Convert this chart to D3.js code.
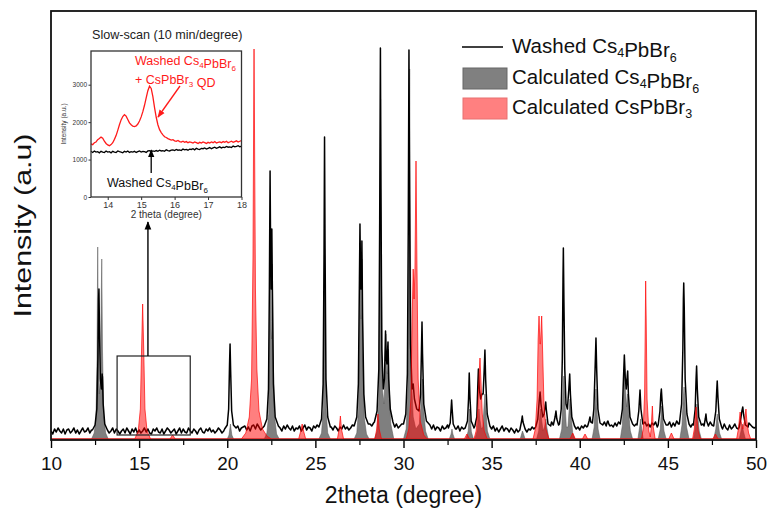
<!DOCTYPE html>
<html><head><meta charset="utf-8">
<script src="https://cdn.jsdelivr.net/npm/d3@7"></script>
<style>body{margin:0;background:#fff}svg{display:block}text{font-family:"Liberation Sans",Arial,sans-serif}</style>
</head><body><svg id="c" width="768" height="514"></svg>
<script>
// ---------- DATA ----------
const xTickValues = [10,15,20,25,30,35,40,45,50];
const xMinorTickValues = [12.5,17.5,22.5,27.5,32.5,37.5,42.5,47.5];
const legendLabels = [
  [["Washed Cs"],["4",1],["PbBr"],["6",1]],
  [["Calculated Cs"],["4",1],["PbBr"],["6",1]],
  [["Calculated CsPbBr"],["3",1]]
];
// measured scan background, 2theta 10.0 .. 50.0 step 0.1
const scanBackground = [
 8,5,10,7,11,8,6,10,5,9, 10,6,8,11,6,9,5,8,11,7, 8,11,6,9,8,11,9,10,8,9, 11,7,9,6,8,11,6,10,8,5,
 8,10,6,11,8,5,10,7,11,6, 9,6,8,11,7,10,6,5,10,8, 11,7,6,10,5,8,11,9,6,8, 10,5,8,11,6,10,7,6,11,8,
 6,10,8,5,9,11,7,6,10,8, 11,7,9,6,8,11,9,6,8,11, 9,11,8,12,9,10,13,8,11,12, 13,9,12,8,13,14,10,15,12,9,
 11,14,12,9,15,12,10,14,9,12, 11,8,13,10,14,11,9,13,8,11, 10,13,8,11,14,9,12,11,8,13, 11,14,9,12,10,15,12,13,10,12,
 9,13,11,8,12,10,14,10,12,9, 11,14,12,9,12,15,13,16,14,12, 12,15,13,16,14,17,15,18,16,19, 18,15,17,13,16,12,15,11,13,15,
 13,11,15,12,16,17,18,16,15,18, 17,19,15,14,12,13,10,14,9,12, 11,8,13,10,11,14,12,9,11,8, 10,13,8,12,10,13,14,10,10,13,
 11,14,12,15,13,16,14,13,12,10, 10,13,8,11,7,10,13,8,11,10, 7,11,9,6,10,7,9,12,10,8, 7,10,9,12,10,13,15,13,16,14,
 13,16,11,15,17,14,18,13,16,15, 14,17,15,12,16,14,11,13,10,12, 9,13,11,14,12,15,13,16,11,14, 13,16,11,15,17,12,15,18,14,12,
 16,13,17,12,15,18,16,13,12,16, 17,13,15,12,18,13,15,17,13,15, 12,16,14,17,12,15,18,16,13,15, 14,17,12,16,13,18,15,17,14,12,
 16,13,17,12,15,14,11,15,12,16, 15,11,16,12,17,14,12,16,14,11, 13,10,15,11,9,14,10,12,15,11, 10,14,9,13,15,12,16,14,12,11,
 12
];
// measured (washed Cs4PbBr6) peaks: [2theta, intensity]
const scanPeaks = [
 [[12.35,9],[12.5,14],[12.6,30],[12.66,80],[12.7,140],[12.72,150],[12.75,110],[12.8,60],[12.86,50],[12.9,65],[12.92,62],[12.96,35],[13.05,15],[13.2,9]],
 [[19.85,10],[20.0,14],[20.08,30],[20.13,75],[20.16,95],[20.19,70],[20.25,28],[20.35,14],[20.5,11]],
 [[22.1,13],[22.25,20],[22.34,50],[22.39,150],[22.43,268],[22.46,190],[22.49,150],[22.53,210],[22.56,150],[22.62,55],[22.72,22],[22.9,13]],
 [[25.2,12],[25.35,20],[25.44,55],[25.49,180],[25.52,302],[25.55,190],[25.6,60],[25.7,22],[25.85,12]],
 [[27.2,13],[27.35,22],[27.44,55],[27.5,160],[27.53,215],[27.57,150],[27.61,150],[27.64,198],[27.68,120],[27.75,45],[27.85,22],[28.0,15]],
 [[28.35,17],[28.5,28],[28.6,70],[28.65,220],[28.69,391],[28.72,250],[28.77,90],[28.85,50],[28.92,60],[28.98,108],[29.02,80],[29.06,75],[29.12,97],[29.16,60],[29.25,30],[29.4,17]],
 [[30.0,15],[30.13,25],[30.22,65],[30.27,210],[30.31,389],[30.34,250],[30.4,95],[30.48,50],[30.55,55],[30.62,40],[30.75,30],[30.88,28],[30.97,45],[31.02,90],[31.05,117],[31.08,85],[31.15,35],[31.3,18],[31.5,14]],
 [[32.55,11],[32.65,16],[32.7,30],[32.73,39],[32.76,30],[32.82,15],[32.95,10]],
 [[33.5,11],[33.63,18],[33.69,40],[33.73,66],[33.77,42],[33.84,18],[33.98,12]],
 [[34.05,13],[34.16,22],[34.21,50],[34.25,70],[34.3,50],[34.38,40],[34.45,45],[34.52,45],[34.58,70],[34.62,89],[34.66,60],[34.75,25],[34.9,13]],
 [[36.6,9],[36.7,18],[36.74,23],[36.78,17],[36.9,10]],
 [[37.5,12],[37.62,20],[37.7,38],[37.75,47],[37.8,35],[37.9,22],[37.98,25],[38.04,33],[38.07,37],[38.1,30],[38.2,15],[38.35,13]],
 [[38.5,14],[38.6,22],[38.65,28],[38.7,20],[38.8,14]],
 [[38.85,15],[38.95,30],[39.01,80],[39.05,160],[39.07,191],[39.1,140],[39.15,70],[39.22,35],[39.3,30],[39.38,50],[39.43,65],[39.47,45],[39.55,22],[39.7,13]],
 [[40.45,13],[40.53,18],[40.58,22],[40.63,17],[40.72,16],[40.8,30],[40.87,70],[40.92,101],[40.96,70],[41.03,30],[41.15,16],[41.3,14]],
 [[41.5,13],[41.56,17],[41.6,18],[41.65,15],[41.72,13]],
 [[42.3,15],[42.42,30],[42.48,60],[42.53,84],[42.58,62],[42.64,50],[42.69,62],[42.72,68],[42.76,45],[42.85,22],[43.0,15]],
 [[43.25,14],[43.35,28],[43.42,49],[43.47,30],[43.58,15]],
 [[44.45,14],[44.55,28],[44.6,45],[44.63,50],[44.67,38],[44.75,20],[44.9,14]],
 [[45.65,15],[45.78,35],[45.85,90],[45.88,140],[45.9,156],[45.93,130],[45.98,60],[46.08,25],[46.2,15]],
 [[46.45,14],[46.55,30],[46.6,60],[46.63,73],[46.67,50],[46.75,22],[46.9,14]],
 [[47.05,13],[47.12,20],[47.16,25],[47.2,18],[47.3,13]],
 [[47.6,13],[47.72,28],[47.77,48],[47.8,58],[47.84,42],[47.92,20],[48.05,12]],
 [[49.05,12],[49.15,22],[49.2,28],[49.25,32],[49.3,24],[49.4,14],[49.55,12]]
];
// calculated Cs4PbBr6 pattern peaks
const calcCs4Peaks = [
 [[12.3,0],[12.45,6],[12.55,20],[12.61,80],[12.65,192],[12.69,90],[12.74,45],[12.8,60],[12.85,140],[12.88,180],[12.92,90],[12.99,25],[13.1,6],[13.25,0]],
 [[20.0,0],[20.1,4],[20.16,12],[20.18,15],[20.2,12],[20.26,4],[20.36,0]],
 [[22.1,0],[22.25,6],[22.35,25],[22.4,110],[22.44,205],[22.48,110],[22.51,100],[22.56,175],[22.6,90],[22.67,25],[22.8,5],[22.95,0]],
 [[25.2,0],[25.35,6],[25.45,30],[25.49,110],[25.52,193],[25.55,110],[25.6,30],[25.7,6],[25.85,0]],
 [[27.2,0],[27.35,6],[27.45,30],[27.51,120],[27.55,198],[27.59,120],[27.62,130],[27.65,180],[27.69,90],[27.77,22],[27.9,5],[28.05,0]],
 [[28.35,0],[28.5,8],[28.6,40],[28.66,180],[28.7,340],[28.74,180],[28.8,50],[28.9,35],[28.96,80],[29.0,105],[29.04,70],[29.08,65],[29.15,90],[29.19,50],[29.28,15],[29.45,0]],
 [[30.0,0],[30.15,10],[30.25,50],[30.31,200],[30.35,370],[30.39,200],[30.45,60],[30.55,22],[30.7,10],[30.9,15],[31.0,35],[31.08,60],[31.14,30],[31.25,8],[31.4,0]],
 [[32.6,0],[32.7,5],[32.75,10],[32.8,5],[32.9,0]],
 [[33.55,0],[33.67,8],[33.72,22],[33.75,30],[33.78,22],[33.85,7],[33.97,0]],
 [[34.05,0],[34.18,8],[34.24,22],[34.28,30],[34.33,20],[34.42,10],[34.5,12],[34.57,32],[34.62,45],[34.67,30],[34.76,8],[34.9,0]],
 [[36.62,0],[36.72,6],[36.75,8],[36.79,6],[36.9,0]],
 [[37.55,0],[37.67,8],[37.74,24],[37.78,30],[37.83,20],[37.92,8],[38.0,12],[38.08,20],[38.13,12],[38.25,0]],
 [[38.85,0],[38.98,10],[39.05,45],[39.1,63],[39.15,40],[39.24,12],[39.33,12],[39.41,32],[39.45,40],[39.5,26],[39.6,6],[39.72,0]],
 [[40.7,0],[40.82,12],[40.88,36],[40.92,50],[40.96,35],[41.04,10],[41.15,0]],
 [[42.3,0],[42.42,14],[42.5,50],[42.55,70],[42.6,48],[42.66,32],[42.72,45],[42.77,28],[42.87,8],[43.0,0]],
 [[43.3,0],[43.4,12],[43.45,20],[43.5,12],[43.6,0]],
 [[44.45,0],[44.57,10],[44.62,26],[44.65,33],[44.69,24],[44.78,8],[44.9,0]],
 [[45.68,0],[45.8,14],[45.87,40],[45.92,52],[45.97,36],[46.06,12],[46.2,0]],
 [[46.45,0],[46.57,12],[46.62,28],[46.65,35],[46.69,25],[46.78,8],[46.9,0]],
 [[47.6,0],[47.72,10],[47.77,20],[47.8,25],[47.84,18],[47.93,6],[48.05,0]],
 [[49.05,0],[49.15,8],[49.22,15],[49.28,8],[49.4,0]]
];
// calculated CsPbBr3 pattern peaks
const calcCsPbBr3Peaks = [
 [[14.75,0],[14.95,8],[15.07,30],[15.14,90],[15.2,135],[15.26,90],[15.33,30],[15.45,8],[15.65,0]],
 [[16.75,0],[16.9,4],[17.05,0]],
 [[20.8,0],[21.05,6],[21.25,22],[21.38,60],[21.46,180],[21.5,330],[21.52,390],[21.55,300],[21.6,150],[21.68,70],[21.8,28],[22.0,10],[22.25,3],[22.5,0]],
 [[24.05,0],[24.17,8],[24.25,15],[24.33,8],[24.45,0]],
 [[26.25,0],[26.35,10],[26.42,23],[26.48,10],[26.6,0]],
 [[28.38,0],[28.48,10],[28.55,25],[28.62,10],[28.75,0]],
 [[30.15,0],[30.3,10],[30.42,40],[30.5,130],[30.55,170],[30.6,140],[30.65,170],[30.71,278],[30.76,180],[30.83,60],[30.95,18],[31.15,4],[31.35,0]],
 [[33.45,0],[33.6,5],[33.75,0]],
 [[34.0,0],[34.12,8],[34.22,30],[34.29,65],[34.34,81],[34.39,60],[34.47,25],[34.58,8],[34.75,0]],
 [[37.35,0],[37.48,10],[37.58,40],[37.64,100],[37.69,123],[37.74,95],[37.77,95],[37.84,123],[37.89,90],[37.97,35],[38.08,10],[38.25,0]],
 [[39.45,0],[39.6,6],[39.75,0]],
 [[40.15,0],[40.3,5],[40.45,0]],
 [[43.5,0],[43.6,10],[43.68,45],[43.72,120],[43.74,158],[43.77,120],[43.82,40],[43.92,8],[44.0,2],[44.05,10],[44.12,33],[44.17,12],[44.28,0]],
 [[45.05,0],[45.2,6],[45.35,0]],
 [[46.4,0],[46.5,10],[46.57,26],[46.6,32],[46.64,22],[46.72,8],[46.85,0]],
 [[47.55,0],[47.7,5],[47.85,0]],
 [[48.9,0],[49.0,10],[49.07,22],[49.1,27],[49.15,18],[49.25,10],[49.35,18],[49.43,30],[49.48,18],[49.58,6],[49.7,0]]
];
// inset slow-scan, 2theta 13.50 .. 18.00 step 0.05
const insetStart = 13.5, insetStep = 0.05;
const insetQD = [
 1420,1400,1450,1470,1530,1560,1600,1570,1490,1430, 1390,1370,1400,1450,1540,1640,1780,1930,2060,2150,
 2200,2160,2070,1980,1930,1890,1880,1900,1950,2030, 2140,2280,2450,2650,2840,2960,2900,2680,2390,2130,
 1930,1800,1720,1660,1610,1590,1560,1540,1520,1530, 1500,1490,1510,1480,1470,1490,1460,1480,1450,1470,
 1460,1440,1470,1450,1430,1460,1440,1470,1450,1430, 1460,1440,1470,1450,1480,1440,1460,1470,1450,1480,
 1460,1490,1450,1470,1490,1460,1480,1500,1470,1490, 1510
];
const insetWashed = [
 1220,1190,1230,1200,1210,1180,1220,1200,1190,1230, 1200,1210,1180,1220,1200,1190,1230,1210,1200,1180,
 1220,1200,1230,1190,1210,1200,1220,1190,1210,1230, 1200,1220,1210,1190,1230,1240,1210,1230,1220,1240,
 1220,1250,1230,1240,1220,1260,1240,1230,1250,1260, 1240,1270,1250,1260,1240,1280,1260,1270,1250,1280,
 1270,1290,1260,1300,1280,1270,1300,1290,1310,1280, 1300,1320,1290,1310,1330,1300,1320,1340,1310,1330,
 1320,1350,1330,1340,1320,1360,1340,1350,1370,1340, 1360
];
const insetXTicks = [14,15,16,17,18];
const insetYTicks = [0,1000,2000,3000];

// ---------- LAYOUT ----------
const svg = d3.select('#c');
const M = {l:51, r:756, t:11, b:440};
const x = d3.scaleLinear().domain([10,50]).range([M.l, M.r]);
const y = d3.scaleLinear().domain([-1,428]).range([M.b, M.t]);

const defs = svg.append('defs');
defs.append('clipPath').attr('id','plotclip').append('rect')
  .attr('x',M.l).attr('y',M.t).attr('width',M.r-M.l).attr('height',M.b-M.t);
function marker(id,color){
  defs.append('marker').attr('id',id).attr('viewBox','0 0 10 10').attr('refX',9).attr('refY',5)
    .attr('markerWidth',6).attr('markerHeight',6).attr('orient','auto-start-reverse')
    .append('path').attr('d','M0,1 L10,5 L0,9 z').attr('fill',color);
}
marker('arrK','#000'); marker('arrR','#ff1a1a');

// ---------- SERIES ----------
const bgPts = scanBackground.map((v,i)=>[+(10+i*0.1).toFixed(2), v]);
const spans = scanPeaks.map(p=>[p[0][0], p[p.length-1][0]]);
const measured = bgPts.filter(([t])=>!spans.some(([a,b])=>t>=a&&t<=b))
  .concat(scanPeaks.flat()).sort((a,b)=>a[0]-b[0]);
const calcSeries = peaks => [[10,0]].concat(peaks.flat(),[[50,0]]).sort((a,b)=>a[0]-b[0]);
const cs4 = calcSeries(calcCs4Peaks);
const cspb = calcSeries(calcCsPbBr3Peaks);

const area = d3.area().x(d=>x(d[0])).y0(y(0)).y1(d=>y(d[1]));
const line = d3.line().x(d=>x(d[0])).y(d=>y(d[1]));

const plot = svg.append('g').attr('clip-path','url(#plotclip)');
plot.append('path').datum(cs4).attr('d',area)
  .attr('fill','rgba(0,0,0,0.5)').attr('stroke','rgba(90,90,90,0.9)').attr('stroke-width',0.6);
plot.append('path').datum(measured).attr('d',line)
  .attr('fill','none').attr('stroke','#000').attr('stroke-width',1.5).attr('stroke-linejoin','round');
plot.append('path').datum(cspb).attr('d',area)
  .attr('fill','rgba(255,0,0,0.5)').attr('stroke','rgba(255,0,0,0.85)').attr('stroke-width',0.8);

// ---------- AXES ----------
const xAxis = svg.append('g').attr('transform',`translate(0,${M.b})`)
  .call(d3.axisBottom(x).tickValues(xTickValues).tickSize(8).tickPadding(6).tickFormat(d3.format('d')));
xAxis.select('.domain').remove();
xAxis.selectAll('line').attr('stroke','#000').attr('stroke-width',1.4);
xAxis.selectAll('text').attr('font-size',19).attr('fill','#111').attr('dy','0.85em');
const xMinor = svg.append('g').attr('transform',`translate(0,${M.b})`)
  .call(d3.axisBottom(x).tickValues(xMinorTickValues).tickSize(5).tickFormat(''));
xMinor.select('.domain').remove();
xMinor.selectAll('line').attr('stroke','#000').attr('stroke-width',1.2);

svg.append('rect').attr('x',M.l).attr('y',M.t).attr('width',M.r-M.l).attr('height',M.b-M.t)
  .attr('fill','none').attr('stroke','#111').attr('stroke-width',1.8);

svg.append('text').attr('x',(M.l+M.r)/2).attr('y',503).attr('text-anchor','middle')
  .attr('font-size',23).attr('fill','#111').text('2theta (degree)');
svg.append('text').attr('transform',`translate(31,${(M.t+M.b)/2}) rotate(-90)`).attr('text-anchor','middle')
  .attr('font-size',24).attr('fill','#111').attr('textLength',184).attr('lengthAdjust','spacingAndGlyphs').text('Intensity (a.u)');

// ---------- LEGEND ----------
function rich(sel, segs, subSize){
  segs.forEach(([t,sub])=>{
    if(sub){ sel.append('tspan').attr('font-size',subSize).attr('dy','0.35em').text(t);
             sel.append('tspan').attr('dy','-0.35em').text(''); }
    else sel.append('tspan').text(t);
  });
}
const lg = svg.append('g');
lg.append('line').attr('x1',462).attr('x2',503).attr('y1',47).attr('y2',47).attr('stroke','#000').attr('stroke-width',1.3);
lg.append('rect').attr('x',463).attr('y',68).attr('width',44).attr('height',21).attr('fill','#808080').attr('stroke','#666');
lg.append('rect').attr('x',463).attr('y',98).attr('width',44).attr('height',21).attr('fill','#ff8080').attr('stroke','#e87070');
legendLabels.forEach((segs,i)=>{
  const t = lg.append('text').attr('x',512).attr('y',[53,84,114][i]).attr('font-size',20.5).attr('fill','#111');
  rich(t, segs, 12.5);
});

// ---------- ZOOM BOX & ARROW ----------
svg.append('rect').attr('x',x(13.75)).attr('y',y(83)).attr('width',x(17.9)-x(13.75)).attr('height',y(4)-y(83))
  .attr('fill','none').attr('stroke','#222').attr('stroke-width',1.2);
svg.append('line').attr('x1',x(15.5)).attr('x2',x(15.5)).attr('y1',y(83)).attr('y2',222)
  .attr('stroke','#000').attr('stroke-width',1.4).attr('marker-end','url(#arrK)');

// ---------- INSET ----------
const I = {l:91, r:241.5, t:51, b:197};
const ix = d3.scaleLinear().domain([13.5,18]).range([I.l,I.r]);
const iy = d3.scaleLinear().domain([0,3900]).range([I.b,I.t]);
const ins = svg.append('g');
const insetPts = arr => arr.map((v,i)=>[insetStart+i*insetStep, v]);
const iline = d3.line().x(d=>ix(d[0])).y(d=>iy(d[1]));
ins.append('path').datum(insetPts(insetWashed)).attr('d',iline).attr('fill','none').attr('stroke','#000').attr('stroke-width',1.3);
ins.append('path').datum(insetPts(insetQD)).attr('d',iline).attr('fill','none').attr('stroke','#ff1a1a').attr('stroke-width',1.3);
ins.append('rect').attr('x',I.l).attr('y',I.t).attr('width',I.r-I.l).attr('height',I.b-I.t)
  .attr('fill','none').attr('stroke','#333').attr('stroke-width',1.3);
const ixa = ins.append('g').attr('transform',`translate(0,${I.b})`)
  .call(d3.axisBottom(ix).tickValues(insetXTicks).tickSize(3).tickPadding(2).tickFormat(d3.format('d')));
ixa.select('.domain').remove();
ixa.selectAll('text').attr('font-size',9).attr('fill','#333');
ixa.selectAll('line').attr('stroke','#333');
const iya = ins.append('g').attr('transform',`translate(${I.l},0)`)
  .call(d3.axisLeft(iy).tickValues(insetYTicks).tickSize(2.5).tickPadding(1.5).tickFormat(d3.format('d')));
iya.select('.domain').remove();
iya.selectAll('text').attr('font-size',6.5).attr('fill','#333');
iya.selectAll('line').attr('stroke','#333');
ins.append('text').attr('x',(I.l+I.r)/2).attr('y',218).attr('text-anchor','middle').attr('font-size',10).attr('fill','#333').text('2 theta (degree)');
ins.append('text').attr('transform',`translate(66,${(I.t+I.b)/2}) rotate(-90)`).attr('text-anchor','middle').attr('font-size',6.5).attr('fill','#333').text('Intensity (a.u.)');
ins.append('text').attr('x',92).attr('y',39).attr('font-size',12.6).attr('fill','#222').text('Slow-scan (10 min/degree)');
const rt1 = ins.append('text').attr('x',135).attr('y',65).attr('font-size',12.5).attr('fill','#ff1a1a');
rich(rt1, [["Washed Cs"],["4",1],["PbBr"],["6",1]], 8);
const rt2 = ins.append('text').attr('x',135).attr('y',84).attr('font-size',12.5).attr('fill','#ff1a1a');
rich(rt2, [["+ CsPbBr"],["3",1],[" QD"]], 8);
const bt = ins.append('text').attr('x',107).attr('y',187).attr('font-size',12.5).attr('fill','#111');
rich(bt, [["Washed Cs"],["4",1],["PbBr"],["6",1]], 8);
ins.append('line').attr('x1',180).attr('y1',86).attr('x2',158).attr('y2',117)
  .attr('stroke','#ff1a1a').attr('stroke-width',1.3).attr('marker-end','url(#arrR)');
ins.append('line').attr('x1',ix(15.3)).attr('y1',173).attr('x2',ix(15.3)).attr('y2',150)
  .attr('stroke','#000').attr('stroke-width',1.3).attr('marker-end','url(#arrK)');
</script></body></html>
